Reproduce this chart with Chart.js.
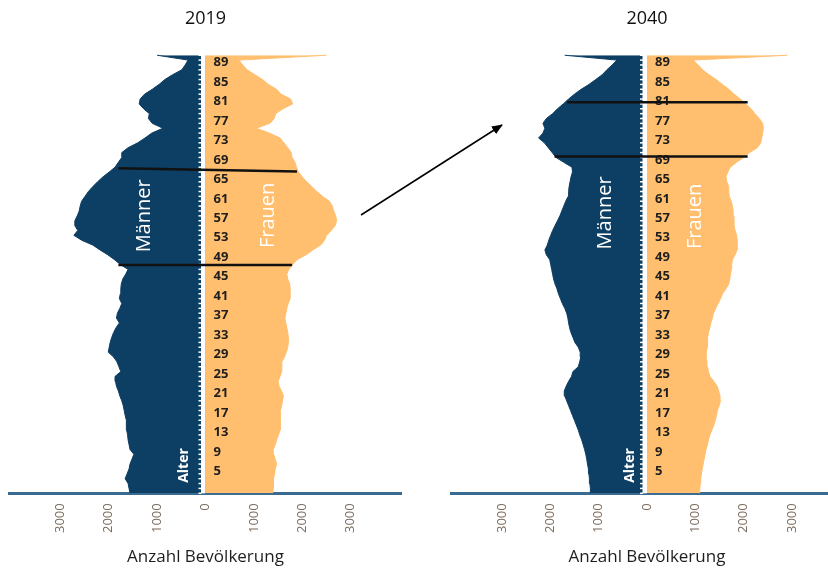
<!DOCTYPE html>
<html>
<head>
<meta charset="utf-8">
<script src="https://cdn.jsdelivr.net/npm/chart.js@4.4.1/dist/chart.umd.min.js"></script>
<style>
html, body { margin: 0; padding: 0; background: #fff; overflow: hidden; }
body { width: 828px; height: 570px; position: relative; }
#c1 { position: absolute; left: 0; top: 0; }
#c2 { position: absolute; left: 441px; top: 0; }
#flecha { position: absolute; left: 0; top: 0; pointer-events: none; }
</style>
</head>
<body>
<canvas id="c1" width="414" height="570"></canvas>
<canvas id="c2" width="414" height="570"></canvas>
<svg id="flecha" width="828" height="570">
  <defs>
    <marker id="punta" markerWidth="11" markerHeight="9" refX="10" refY="4.5" orient="auto" markerUnits="userSpaceOnUse">
      <path d="M0,0 L11,4.5 L0,9 z" fill="#000"/>
    </marker>
  </defs>
  <line x1="361" y1="215" x2="502" y2="125" stroke="#000" stroke-width="1.5" marker-end="url(#punta)"/>
</svg>
<script>
// edades 0..90 (90 = 90 und älter)
var edades = [];
for (var i = 0; i <= 90; i++) edades.push(i);

var hombres2019 = [1560, 1580, 1600, 1660, 1620, 1580, 1560, 1520, 1480, 1560,
    1580, 1600, 1610, 1630, 1630, 1640, 1660, 1680, 1700, 1730,
    1770, 1800, 1840, 1860, 1870, 1750, 1790, 1830, 1900, 2010,
    1990, 1970, 1940, 1900, 1850, 1780, 1840, 1820, 1770, 1730,
    1780, 1760, 1750, 1740, 1710, 1650, 1600, 1760, 1880, 2020,
    2180, 2330, 2560, 2720, 2640, 2700, 2700, 2650, 2610, 2590,
    2560, 2490, 2420, 2330, 2230, 2120, 1990, 1870, 1800, 1730,
    1730, 1600, 1400, 1250, 1110, 880, 1100, 1180, 1160, 1280,
    1370, 1350, 1260, 1100, 960, 840, 680, 490, 420, 360,
    1000];
var mujeres2019 = [1390, 1400, 1400, 1410, 1430, 1440, 1470, 1440, 1410, 1400,
    1440, 1470, 1510, 1540, 1540, 1540, 1550, 1560, 1575, 1590,
    1610, 1570, 1520, 1500, 1540, 1575, 1575, 1580, 1630, 1670,
    1700, 1713, 1713, 1700, 1680, 1660, 1640, 1660, 1680, 1710,
    1748, 1750, 1750, 1740, 1700, 1680, 1720, 1800, 1890, 2080,
    2220, 2380, 2460, 2500, 2600, 2680, 2710, 2690, 2650, 2620,
    2560, 2420, 2300, 2200, 2090, 2000, 1920, 1880, 1850, 1790,
    1770, 1700, 1620, 1540, 1320, 1050, 1330, 1420, 1450, 1600,
    1800, 1760, 1560, 1470, 1300, 1180, 1020, 860, 770, 690,
    2500];
var hombres2040 = [1160, 1170, 1180, 1190, 1200, 1210, 1230, 1245, 1265, 1290,
    1320, 1350, 1390, 1420, 1460, 1500, 1540, 1580, 1620, 1660,
    1700, 1710, 1670, 1620, 1560, 1530, 1420, 1390, 1370, 1380,
    1420, 1490, 1530, 1570, 1600, 1620, 1635, 1660, 1700, 1750,
    1790, 1830, 1860, 1900, 1930, 1950, 1970, 1990, 2010, 2080,
    2110, 2060, 2030, 1990, 1950, 1900, 1850, 1800, 1760, 1720,
    1680, 1630, 1620, 1610, 1590, 1570, 1540, 1550, 1720, 1880,
    1960, 2040, 2120, 2240, 2150, 2110, 2150, 2080, 1950, 1850,
    1730, 1620, 1500, 1360, 1200, 1060, 925, 830, 720, 620,
    1700];
var mujeres2040 = [1080, 1090, 1100, 1110, 1125, 1140, 1160, 1180, 1200, 1220,
    1250, 1270, 1300, 1340, 1380, 1410, 1435, 1455, 1490, 1520,
    1510, 1480, 1450, 1380, 1300, 1270, 1250, 1240, 1220, 1225,
    1245, 1252, 1252, 1270, 1295, 1320, 1350, 1375, 1420, 1470,
    1520, 1560, 1630, 1690, 1710, 1725, 1740, 1750, 1765, 1820,
    1860, 1865, 1865, 1850, 1820, 1800, 1800, 1795, 1780, 1765,
    1740, 1700, 1690, 1690, 1650, 1630, 1670, 1720, 1850, 2000,
    2120, 2280, 2350, 2370, 2390, 2405, 2390, 2320, 2230, 2150,
    2040, 1930, 1800, 1690, 1560, 1430, 1280, 1150, 1060, 950,
    2900];

var etiquetasEdad = [5, 9, 13, 17, 21, 25, 29, 33, 37, 41, 45, 49, 53, 57, 61, 65, 69, 73, 77, 81, 85, 89];
var ticksX = [-3000, -2000, -1000, 0, 1000, 2000, 3000];

// schwarze Linien: [x1, alter1, x2, alter2]
var lineas2019 = [[-1800, 66.8, 1890, 66.1], [-1800, 46.9, 1790, 46.9]];
var lineas2040 = [[-1650, 80.35, 2080, 80.35], [-1910, 69.2, 2080, 69.2]];

// Texte: [text, x, alter, bold]
var textos2019 = [['Männer', -1264, 57.0, false], ['Frauen', 1297, 57.1, false], ['Alter', -450, 5.7, true]];
var textos2040 = [['Männer', -868, 57.6, false], ['Frauen', 992, 56.9, false], ['Alter', -345, 5.7, true]];

var azul = '#0d3e63';
var naranja = '#ffbf6f';

Chart.defaults.font.family = '"Open Sans", sans-serif';

function dibujarEje(chart) {
    var ctx = chart.ctx;
    var sx = chart.scales.x, sy = chart.scales.y;
    var x0 = sx.getPixelForValue(0);
    ctx.save();
    // weisse Achse mit Strichen
    ctx.fillStyle = '#fff';
    ctx.fillRect(x0 - 4.5, sy.top, 4.5, sy.bottom - sy.top);
    ctx.strokeStyle = '#fff';
    ctx.lineWidth = 1.5;
    edades.forEach(function (a) {
        var yy = sy.getPixelForValue(a);
        ctx.beginPath();
        ctx.moveTo(x0 - 7, yy);
        ctx.lineTo(x0 - 4, yy);
        ctx.stroke();
    });
    // Alter
    ctx.fillStyle = '#1e1e1e';
    ctx.font = 'bold 13px "Open Sans"';
    ctx.textAlign = 'left';
    ctx.textBaseline = 'middle';
    etiquetasEdad.forEach(function (a) {
        ctx.fillText(String(a), x0 + 8, sy.getPixelForValue(a - 0.5));
    });
    // Männer / Frauen / Alter
    chart.options.textos.forEach(function (t) {
        ctx.save();
        ctx.translate(sx.getPixelForValue(t[1]), sy.getPixelForValue(t[2]));
        ctx.rotate(-Math.PI / 2);
        ctx.fillStyle = '#fff';
        ctx.font = t[3] ? 'bold 14px "Open Sans"' : '20px "Open Sans"';
        ctx.textAlign = 'center';
        ctx.fillText(t[0], 0, 0);
        ctx.restore();
    });
    ctx.restore();
}

var pluginEje = {
    id: 'ejeCentral',
    beforeDraw: function (chart) { chart.$ejeHecho = false; },
    beforeDatasetDraw: function (chart, args) {
        if (chart.$ejeHecho || !chart.data.datasets[args.index].linea) return;
        chart.$ejeHecho = true;
        dibujarEje(chart);
    }
};

function crearDatos(hombres, mujeres, lineas) {
    var ds = [];
    lineas.forEach(function (l) {
        ds.push({
            data: [{ x: l[0], y: l[1] }, { x: l[2], y: l[3] }],
            borderColor: '#111', borderWidth: 2.5, pointRadius: 0, fill: false, order: 0, linea: true
        });
    });
    ds.push({
        data: hombres.map(function (v, i) { return { x: -v, y: edades[i] }; }),
        backgroundColor: azul, borderColor: azul, borderWidth: 1, pointRadius: 0, fill: 'origin', order: 1
    });
    ds.push({
        data: mujeres.map(function (v, i) { return { x: v, y: edades[i] }; }),
        backgroundColor: naranja, borderColor: naranja, borderWidth: 1, pointRadius: 0, fill: 'origin', order: 1
    });
    return ds;
}

function crearGrafica(id, titulo, hombres, mujeres, lineas, textos, padIzq) {
    return new Chart(document.getElementById(id), {
        type: 'line',
        data: { datasets: crearDatos(hombres, mujeres, lineas) },
        plugins: [pluginEje],
        options: {
            responsive: false,
            animation: false,
            indexAxis: 'y',
            textos: textos,
            layout: { padding: { left: padIzq, right: 22 - padIzq, top: 0, bottom: 2.8 } },
            elements: { line: { tension: 0 } },
            plugins: {
                legend: { display: false },
                tooltip: { enabled: false },
                title: {
                    display: true, text: titulo, color: '#111',
                    font: { size: 18, weight: 'normal' },
                    padding: { top: 8, bottom: 23.2 }
                }
            },
            scales: {
                y: { type: 'linear', min: 0, max: 90.5, display: false },
                x: {
                    type: 'linear', min: -4050, max: 4050,
                    afterBuildTicks: function (s) {
                        s.ticks = ticksX.map(function (v) { return { value: v }; });
                    },
                    ticks: {
                        minRotation: 90, maxRotation: 90, padding: 10, color: '#7b6b5d',
                        font: { size: 13 },
                        callback: function (v) { return String(Math.abs(v)); }
                    },
                    grid: { display: false, drawTicks: false },
                    border: { display: true, color: '#3b6b91', width: 3 },
                    title: {
                        display: true, text: 'Anzahl Bevölkerung', color: '#1e1e1e',
                        font: { size: 17 }, padding: { top: 3.8, bottom: 0 }
                    }
                }
            }
        }
    });
}

crearGrafica('c1', '2019', hombres2019, mujeres2019, lineas2019, textos2019, 9.5);
crearGrafica('c2', '2040', hombres2040, mujeres2040, lineas2040, textos2040, 10);
</script>
</body>
</html>
